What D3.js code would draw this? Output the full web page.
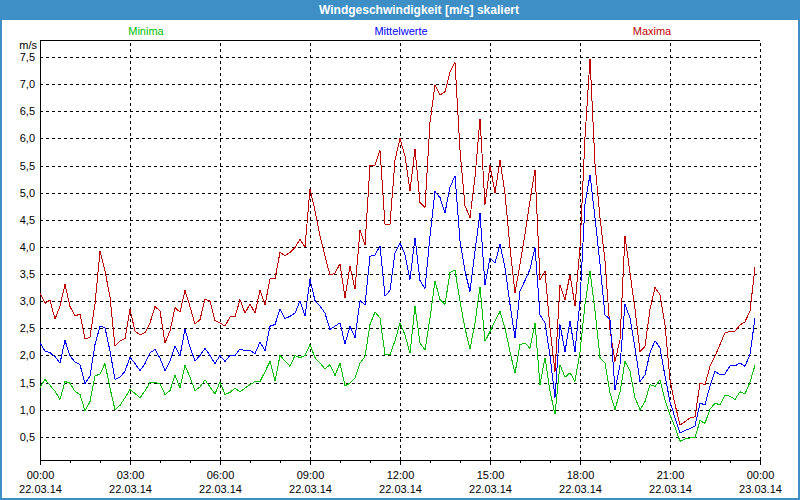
<!DOCTYPE html>
<html>
<head>
<meta charset="utf-8">
<script src="https://cdn.jsdelivr.net/npm/d3@7"></script>
<style>
  html, body { margin: 0; padding: 0; background: #fff; }
  svg { display: block; }
  text { font-family: "Liberation Sans", Arial, sans-serif; }
</style>
</head>
<body>
<svg id="chart" width="800" height="500"></svg>
<script>
// ---------- data ----------
const title = "Windgeschwindigkeit [m/s] skaliert";
const seriesNames = ["Minima", "Mittelwerte", "Maxima"];
const unitLabel = "m/s";
const intervalMinutes = 10; // one sample every 10 minutes, starting 22.03.14 00:00

const maxima = [3.15,2.96,3.02,2.67,2.91,3.31,2.9,2.73,2.76,2.3,2.34,2.95,3.92,3.56,3.07,2.17,2.27,2.31,2.85,2.45,
  2.38,2.42,2.6,2.9,2.82,2.23,2.45,2.88,2.8,3.2,2.9,2.58,2.66,3.04,3.0,2.64,2.6,2.54,2.71,2.71,
  3.03,2.78,2.95,2.78,3.2,2.93,3.41,3.41,3.9,3.84,3.9,3.99,4.14,4.0,5.07,4.67,4.2,3.83,3.48,3.52,
  3.69,3.06,3.65,3.22,4.31,4.04,5.5,5.51,5.78,4.42,4.42,5.6,6.0,5.67,5.03,5.81,4.82,4.73,6.3,6.98,
  6.8,6.86,7.23,7.4,5.78,4.76,4.54,5.28,6.36,4.78,5.5,5.0,5.6,4.98,3.99,3.15,3.68,4.24,4.85,5.42,
  3.4,3.55,2.5,1.7,3.3,3.03,3.49,2.91,4.0,6.02,7.46,5.53,4.54,3.74,2.47,1.89,2.29,4.2,3.52,2.85,
  2.07,2.17,2.85,3.25,3.12,2.57,1.54,1.1,0.72,0.78,0.85,0.87,1.49,1.46,1.8,1.99,2.2,2.42,2.44,2.45,
  2.56,2.62,2.82,3.62];

const mittelwerte = [2.23,2.08,2.05,1.98,1.86,2.28,1.99,1.88,1.83,1.48,1.62,2.2,2.54,2.51,2.08,1.56,1.6,1.71,1.97,1.85,
  1.72,1.85,2.05,2.11,1.95,1.72,1.9,2.17,1.99,2.49,2.15,1.9,2.0,2.13,2.0,1.85,2.0,1.89,2.0,2.0,
  2.12,2.09,2.1,2.03,2.25,2.09,2.54,2.57,2.85,2.68,2.72,2.78,3.01,2.72,3.4,3.01,2.91,2.78,2.48,2.54,
  2.6,2.21,2.54,2.33,3.01,2.93,3.83,3.85,4.02,3.09,3.2,3.89,4.07,3.86,3.4,4.17,3.38,3.23,4.2,5.02,
  4.91,4.63,5.1,5.31,4.11,3.55,3.18,3.93,4.62,3.3,3.8,3.7,4.05,3.62,2.94,2.32,3.19,3.38,3.59,3.99,
  2.75,2.6,2.0,1.22,2.57,2.07,2.63,2.07,3.0,4.79,5.33,4.54,3.68,2.75,2.66,1.37,1.83,2.94,2.69,2.14,
  1.52,1.64,2.05,2.27,2.14,1.62,1.15,0.85,0.57,0.62,0.65,0.7,1.12,1.09,1.44,1.71,1.64,1.66,1.81,1.81,
  1.86,1.8,2.02,2.69];

const minima = [1.41,1.56,1.45,1.34,1.19,1.52,1.49,1.34,1.28,0.98,1.15,1.62,1.66,1.85,1.4,1.0,1.08,1.22,1.37,1.3,
  1.22,1.35,1.5,1.5,1.48,1.28,1.35,1.64,1.4,1.82,1.6,1.35,1.42,1.55,1.42,1.29,1.51,1.28,1.32,1.4,
  1.33,1.4,1.46,1.52,1.52,1.7,1.89,1.53,2.0,1.9,1.8,2.0,1.96,2.0,2.2,1.96,1.86,1.75,1.83,1.63,
  1.86,1.44,1.49,1.58,1.86,1.98,2.57,2.8,2.69,2.02,2.01,2.27,2.6,2.38,2.04,2.91,2.23,2.1,2.69,3.37,
  3.03,2.94,3.53,3.57,3.0,2.5,2.12,2.6,3.26,2.26,2.44,2.63,2.81,2.5,2.07,1.67,2.2,2.23,2.13,2.6,
  1.46,1.96,1.34,0.92,1.83,1.6,1.68,1.52,2.07,2.94,3.56,2.82,1.96,1.86,1.31,1.0,1.33,1.89,1.71,1.22,
  1.0,1.15,1.46,1.43,1.55,1.18,0.9,0.68,0.42,0.46,0.48,0.48,0.8,0.75,1.01,1.12,1.09,1.27,1.25,1.19,
  1.33,1.29,1.51,1.82];

const xTickMinutes = [0, 180, 360, 540, 720, 900, 1080, 1260, 1440];
const xTimeLabels = ["00:00","03:00","06:00","09:00","12:00","15:00","18:00","21:00","00:00"];
const xDateLabels = ["22.03.14","22.03.14","22.03.14","22.03.14","22.03.14","22.03.14","22.03.14","22.03.14","23.03.14"];
const yTicks = [0.5,1.0,1.5,2.0,2.5,3.0,3.5,4.0,4.5,5.0,5.5,6.0,6.5,7.0,7.5];

// ---------- drawing ----------
const W = 800, H = 500;
const plot = { left: 40, right: 760, top: 40, bottom: 460 };
const frameBlue = "#3d8fc6";
const colors = { min: "#00c000", mean: "#0000ff", max: "#c00000" };

const svg = d3.select("#chart");

// window frame + title bar
svg.append("rect").attr("x", 0).attr("y", 0).attr("width", W).attr("height", H).attr("fill", frameBlue);
svg.append("rect").attr("x", 2).attr("y", 20).attr("width", W - 4).attr("height", H - 22).attr("fill", "#ffffff");
svg.append("text").attr("x", 419).attr("y", 14).attr("text-anchor", "middle")
  .attr("fill", "#ffffff").attr("font-weight", "bold").attr("font-size", "12px").text(title);

const x = d3.scaleLinear().domain([0, 1440]).range([plot.left, plot.right]);
const y = d3.scaleLinear().domain([0.0737, 7.813]).range([plot.bottom, plot.top]);

const commaFmt = d3.formatLocale({ decimal: ",", thousands: ".", grouping: [3], currency: ["", "€"] }).format(".1f");

// horizontal grid
const gy = svg.append("g").attr("transform", `translate(${plot.left},0)`)
  .call(d3.axisLeft(y).tickValues(yTicks).tickSize(-(plot.right - plot.left)).tickFormat(""));
gy.select(".domain").remove();
gy.selectAll(".tick line").attr("stroke", "#000").attr("stroke-dasharray", "3,3").attr("shape-rendering", "crispEdges");

// vertical grid
const gx = svg.append("g").attr("transform", `translate(0,${plot.bottom})`)
  .call(d3.axisBottom(x).tickValues(xTickMinutes.slice(1)).tickSize(-(plot.bottom - plot.top)).tickFormat(""));
gx.select(".domain").remove();
gx.selectAll(".tick line").attr("stroke", "#000").attr("stroke-dasharray", "3,3").attr("shape-rendering", "crispEdges");

// y labels
const yl = svg.append("g").attr("transform", `translate(${plot.left},0)`)
  .call(d3.axisLeft(y).tickValues(yTicks).tickSize(0).tickPadding(5).tickFormat(d => commaFmt(d)));
yl.select(".domain").remove();
yl.selectAll("text").attr("font-size", "11px").attr("fill", "#000").attr("font-family", "'Liberation Sans', Arial, sans-serif");

svg.append("text").attr("x", 37).attr("y", 49).attr("text-anchor", "end")
  .attr("font-size", "11px").attr("fill", "#000").text(unitLabel);

// minor hourly ticks
const minor = svg.append("g").attr("transform", `translate(0,${plot.bottom})`)
  .call(d3.axisBottom(x).tickValues(d3.range(0, 1441, 60)).tickSize(3).tickFormat(""));
minor.select(".domain").remove();
minor.selectAll(".tick line").attr("stroke", "#000").attr("shape-rendering", "crispEdges");

// major ticks with two-line labels
const xa = svg.append("g").attr("transform", `translate(0,${plot.bottom})`)
  .call(d3.axisBottom(x).tickValues(xTickMinutes).tickSize(5).tickPadding(6).tickFormat((d, i) => xTimeLabels[i]));
xa.select(".domain").remove();
xa.selectAll(".tick line").attr("stroke", "#000").attr("shape-rendering", "crispEdges");
xa.selectAll(".tick text").attr("font-size", "11px").attr("fill", "#000")
  .attr("font-family", "'Liberation Sans', Arial, sans-serif")
  .each(function(d, i) {
    d3.select(this).append("tspan").attr("x", 0).attr("dy", "1.3em").text(xDateLabels[i]);
  });

// axis frame lines
const frame = svg.append("g").attr("stroke", "#000").attr("shape-rendering", "crispEdges");
frame.append("line").attr("x1", plot.left).attr("x2", plot.right).attr("y1", plot.bottom + 0.5).attr("y2", plot.bottom + 0.5);
frame.append("line").attr("x1", plot.left + 0.5).attr("x2", plot.left + 0.5).attr("y1", plot.top).attr("y2", plot.bottom + 3);
frame.append("line").attr("x1", plot.left).attr("x2", plot.right).attr("y1", plot.top + 0.5).attr("y2", plot.top + 0.5);

// legend
const legendX = [146, 401, 652];
const legendColors = [colors.min, colors.mean, colors.max];
svg.append("g").selectAll("text").data(seriesNames).join("text")
  .attr("x", (d, i) => legendX[i]).attr("y", 35).attr("text-anchor", "middle")
  .attr("font-size", "11px").attr("fill", (d, i) => legendColors[i]).text(d => d);

// series lines
const line = d3.line().x((d, i) => x(i * intervalMinutes)).y(d => y(d));
[[minima, colors.min], [maxima, colors.max], [mittelwerte, colors.mean]].forEach(([vals, c]) => {
  svg.append("path").datum(vals).attr("d", line).attr("fill", "none")
    .attr("stroke", c).attr("stroke-width", 1).attr("shape-rendering", "crispEdges");
});
</script>
</body>
</html>
